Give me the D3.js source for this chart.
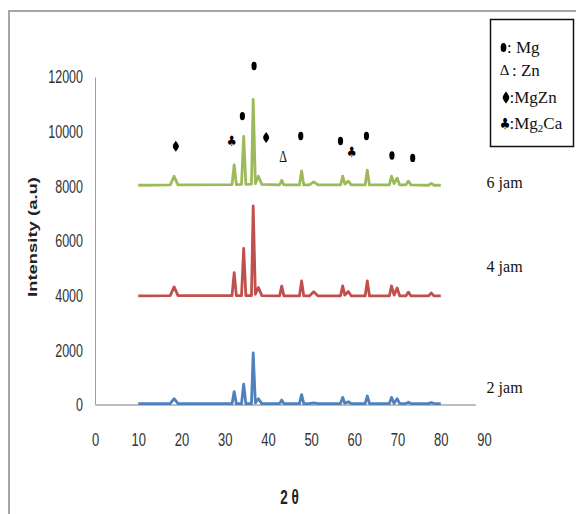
<!DOCTYPE html>
<html>
<head>
<meta charset="utf-8">
<script src="https://cdn.jsdelivr.net/npm/d3@7"></script>
<style>
  body { margin: 0; background: #fff; }
  svg { display: block; }
</style>
</head>
<body>
<script>
// 2 theta positions shared by the three patterns
var twoTheta = [10, 17.4, 18.3, 19.2, 31.7, 32.2, 32.7, 33.9, 34.4, 34.9, 36.2, 36.6, 37.1, 37.8, 38.6,
  42.7, 43.2, 43.7, 47.3, 47.8, 48.3, 49.6, 50.6, 51.6, 56.8, 57.3, 57.8, 58.6, 59.3,
  62.5, 63.0, 63.5, 68.1, 68.6, 69.2, 69.9, 70.5, 71.9, 72.5, 73.1, 77.2, 77.8, 78.4, 80];

var jam6 = [8040, 8050, 8370, 8050, 8060, 8780, 8060, 8070, 9830, 8070, 8080, 11180, 8100, 8370, 8070,
  8050, 8220, 8050, 8050, 8560, 8050, 8050, 8160, 8050, 8050, 8370, 8080, 8190, 8050,
  8050, 8590, 8050, 8050, 8370, 8100, 8300, 8050, 8050, 8190, 8050, 8040, 8110, 8040, 8040];

var jam4 = [3990, 4000, 4320, 4000, 4000, 4840, 4000, 4000, 5730, 4000, 4000, 7280, 4050, 4300, 4000,
  3990, 4350, 3990, 3990, 4540, 3990, 3990, 4140, 3990, 3990, 4360, 4020, 4150, 3990,
  3990, 4540, 3990, 3990, 4360, 4020, 4280, 3990, 3990, 4130, 3990, 3990, 4100, 3990, 3990];

var jam2 = [50, 50, 230, 50, 50, 490, 50, 50, 760, 50, 50, 1910, 80, 230, 50,
  50, 180, 50, 50, 380, 50, 50, 80, 50, 50, 280, 60, 120, 50,
  50, 330, 50, 50, 280, 60, 230, 50, 50, 100, 50, 50, 90, 50, 50];

var seriesNames = ["6 jam", "4 jam", "2 jam"];
var seriesColors = ["#9bbb59", "#c0504d", "#4f81bd"];
var labelTheta = [90.6, 90.6, 90.6];
var labelValue = [7930, 4860, 440];

// phase marks above the 6 jam pattern
var markTheta = [18.7, 31.6, 34.1, 36.8, 39.6, 43.5, 47.6, 56.8, 59.4, 62.8, 68.7, 73.5];
var markValue = [9470, 9660, 10570, 12400, 9790, 9100, 9840, 9660, 9260, 9840, 9130, 9040];
var markType = ["MgZn", "Mg2Ca", "Mg", "Mg", "MgZn", "Zn", "Mg", "Mg", "Mg2Ca", "Mg", "Mg", "Mg"];

var xTicks = [0, 10, 20, 30, 40, 50, 60, 70, 80, 90];
var yTicks = [0, 2000, 4000, 6000, 8000, 10000, 12000];

var width = 576, height = 514;
var svg = d3.select("body").append("svg")
  .attr("width", width)
  .attr("height", height);

// outer frame
svg.append("path")
  .attr("d", "M9,514V11H576")
  .attr("fill", "none")
  .attr("stroke", "#a6a6a6")
  .attr("stroke-width", 2);

var x = d3.scaleLinear().domain([0, 90]).range([95, 484]);
var y = d3.scaleLinear().domain([0, 12000]).range([405, 77]);

// y axis
var yAxis = svg.append("g")
  .attr("transform", "translate(" + x(0) + ",0)")
  .call(d3.axisLeft(y).tickValues(yTicks).tickFormat(d3.format("d")).tickSize(0).tickPadding(12));
yAxis.select(".domain").attr("stroke", "#a0a0a0").attr("stroke-width", 1);
yAxis.selectAll("text")
  .attr("font-family", "Liberation Sans, Arial, sans-serif")
  .attr("font-size", 12.5)
  .attr("fill", "#333")
  .attr("transform", "scale(1,1.45)");

// x axis
var xAxis = svg.append("g")
  .attr("transform", "translate(0," + y(0) + ")")
  .call(d3.axisBottom(x).tickValues(xTicks).tickSize(0));
xAxis.select(".domain").remove();
xAxis.selectAll("text")
  .attr("font-family", "Liberation Sans, Arial, sans-serif")
  .attr("font-size", 13)
  .attr("fill", "#333")
  .attr("y", 34 / 1.45)
  .attr("dy", "0.35em")
  .attr("transform", "scale(1,1.45)");
svg.append("line")
  .attr("x1", x(0)).attr("x2", x(88.1))
  .attr("y1", y(0)).attr("y2", y(0))
  .attr("stroke", "#bdbdbd")
  .attr("stroke-width", 2);

// axis titles
svg.append("text")
  .attr("transform", "translate(32,237) rotate(-90) scale(1.42,1)")
  .attr("text-anchor", "middle")
  .attr("dy", "0.35em")
  .attr("font-family", "Liberation Sans, Arial, sans-serif")
  .attr("font-weight", "bold")
  .attr("font-size", 13)
  .attr("fill", "#222")
  .text("Intensity (a.u)");

svg.append("text")
  .attr("transform", "translate(" + ((x(0) + x(90)) / 2) + ",497) scale(1,1.45)")
  .attr("text-anchor", "middle")
  .attr("dy", "0.35em")
  .attr("font-family", "Liberation Sans, Arial, sans-serif")
  .attr("font-weight", "bold")
  .attr("font-size", 13.5)
  .attr("fill", "#222")
  .text("2 θ");

// patterns
var allSeries = [jam6, jam4, jam2];
var line = d3.line()
  .x(function(d, i) { return x(twoTheta[i]); })
  .y(function(d) { return y(d); });

svg.selectAll(".pattern")
  .data(allSeries)
  .enter().append("path")
  .attr("class", "pattern")
  .attr("d", line)
  .attr("fill", "none")
  .attr("stroke", function(d, i) { return seriesColors[i]; })
  .attr("stroke-width", 2.8)
  .attr("stroke-linejoin", "round");

// series labels
svg.selectAll(".slabel")
  .data(seriesNames)
  .enter().append("text")
  .attr("class", "slabel")
  .attr("x", function(d, i) { return x(labelTheta[i]); })
  .attr("y", function(d, i) { return y(labelValue[i]); })
  .attr("font-family", "Liberation Serif, Times New Roman, serif")
  .attr("font-size", 16)
  .attr("fill", "#111")
  .text(function(d) { return d; });

// draw one phase glyph centred at cx, cy
function drawGlyph(g, type, cx, cy, big) {
  var k = big ? 1.1 : 1;
  if (type == "Mg") {
    g.append("ellipse")
      .attr("cx", cx).attr("cy", cy)
      .attr("rx", 2.6 * k).attr("ry", 4.2 * k)
      .attr("fill", "#000");
  } else if (type == "MgZn") {
    g.append("path")
      .attr("transform", "translate(" + cx + "," + cy + ") scale(" + k + ")")
      .attr("d", "M0,-5.5C1.8,-3 3,-1.6 3,0C3,1.6 1.8,3 0,5.5C-1.8,3 -3,1.6 -3,0C-3,-1.6 -1.8,-3 0,-5.5Z")
      .attr("fill", "#000");
  } else if (type == "Mg2Ca") {
    g.append("text")
      .attr("transform", "translate(" + cx + "," + cy + ") scale(" + k + "," + (1.3 * k) + ")")
      .attr("text-anchor", "middle")
      .attr("dy", "0.35em")
      .attr("font-family", "DejaVu Sans, sans-serif")
      .attr("font-size", 11)
      .attr("fill", "#000")
      .text("♣");
  } else {
    g.append("text")
      .attr("transform", "translate(" + cx + "," + cy + ") scale(1," + (big ? 1 : 1.35) + ")")
      .attr("text-anchor", "middle")
      .attr("dy", "0.33em")
      .attr("font-family", "Liberation Serif, Times New Roman, serif")
      .attr("font-size", big ? 15 : 12)
      .attr("fill", "#111")
      .text("Δ");
  }
}

var marks = svg.append("g");
markType.forEach(function(t, i) {
  drawGlyph(marks, t, x(markTheta[i]), y(markValue[i]), false);
});

// legend box
var legend = svg.append("g");
legend.append("rect")
  .attr("x", 490.5).attr("y", 19.5)
  .attr("width", 83).attr("height", 127)
  .attr("fill", "#fff")
  .attr("stroke", "#111")
  .attr("stroke-width", 1.5);

var legendTypes = ["Mg", "Zn", "MgZn", "Mg2Ca"];
var legendGlyphX = [503.5, 504.5, 506, 505];
var legendBase = [53, 76, 103, 129];
var legendTextX = [507, 512, 509.5, 509.5];

legendTypes.forEach(function(t, i) {
  drawGlyph(legend, t, legendGlyphX[i], legendBase[i] - 5.5, true);
  var txt = legend.append("text")
    .attr("x", legendTextX[i])
    .attr("y", legendBase[i])
    .attr("font-family", "Liberation Serif, Times New Roman, serif")
    .attr("font-size", 17)
    .attr("fill", "#111");
  if (t == "Mg2Ca") {
    txt.append("tspan").text(":Mg");
    txt.append("tspan").attr("font-size", 11).attr("dy", 3).text("2");
    txt.append("tspan").attr("dy", -3).text("Ca");
  } else if (t == "Zn") {
    txt.text(": Zn");
  } else if (t == "Mg") {
    txt.text(": Mg");
  } else {
    txt.text(":" + t);
  }
});
</script>
</body>
</html>
